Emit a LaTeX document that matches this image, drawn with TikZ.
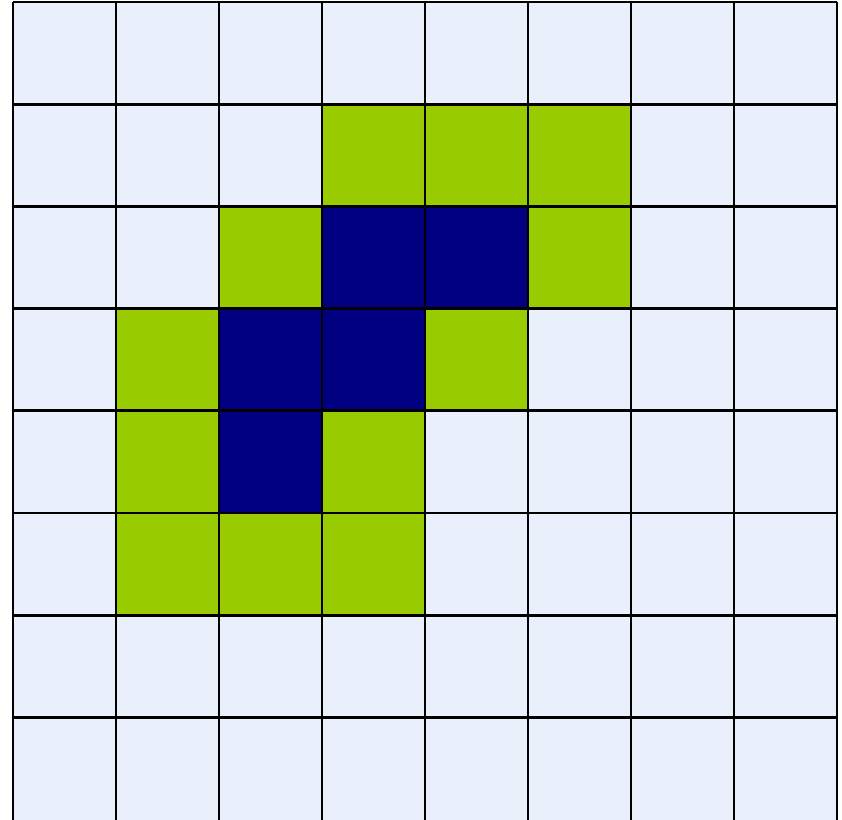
\documentclass[tikz,border=0pt]{standalone}
\usepackage{tikz}
\usepackage{xcolor}

\definecolor{cellbg}{HTML}{EAF0FB}
\definecolor{cellgreen}{HTML}{99CC00}
\definecolor{cellnavy}{HTML}{000080}

\tikzset{
    gridline/.style={line width=2.2pt, black},
    cell/.style={fill=#1}
}

\begin{document}
\begin{tikzpicture}[x=0.75pt, y=-0.75pt]
        \clip (0,0) rectangle (842,820);
        % background of the board
        \fill[cellbg] (13,2) rectangle (837,822);

        % coloured cells: row/column/colour
        \foreach \r/\c/\col in {1/3/cellgreen, 1/4/cellgreen, 1/5/cellgreen,
                                2/2/cellgreen, 2/3/cellnavy, 2/4/cellnavy, 2/5/cellgreen,
                                3/1/cellgreen, 3/2/cellnavy, 3/3/cellnavy, 3/4/cellgreen,
                                4/1/cellgreen, 4/2/cellnavy, 4/3/cellgreen,
                                5/1/cellgreen, 5/2/cellgreen, 5/3/cellgreen} {
            \path[cell=\col] ({13+103*\c},{2+102.2*\r}) rectangle ({13+103*(\c+1)},{2+102.2*(\r+1)});
        }

        % grid lines (bottom edge lies outside the page)
        \foreach \i in {0,...,8} {
            \draw[gridline] ({13+103*\i},2) -- ({13+103*\i},830);
        }
        \foreach \i in {0,...,7} {
            \draw[gridline] (13,{2+102.2*\i}) -- (837,{2+102.2*\i});
        }
    \end{tikzpicture}
\end{document}
